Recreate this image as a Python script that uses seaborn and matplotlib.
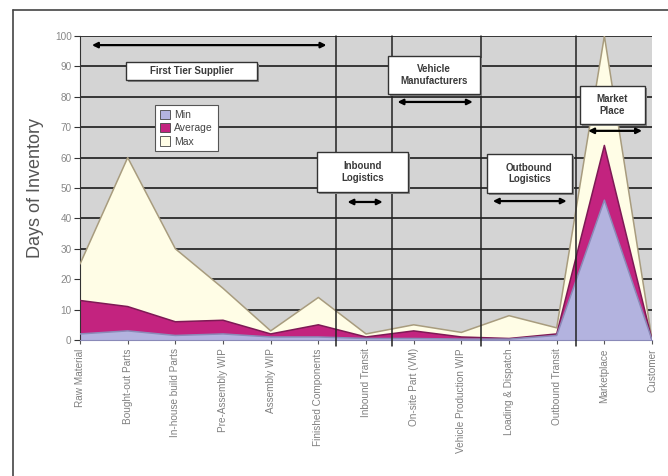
import numpy as np
import pandas as pd
import matplotlib.pyplot as plt
import seaborn as sns
from matplotlib.lines import Line2D
from matplotlib.patches import Rectangle

# Etapas de la cadena y días de inventario
stages = ['Raw Material', 'Bought-out Parts', 'In-house build Parts',
          'Pre-Assembly WIP', 'Assembly WIP', 'Finished Components',
          'Inbound Transit', 'On-site Part (VM)', 'Vehicle Production WIP',
          'Loading & Dispatch', 'Outbound Transit', 'Marketplace', 'Customer']
max_days = [25, 60, 30, 17, 3, 14, 2, 5, 2.5, 8, 4, 100, 0]
avg_days = [13, 11, 6, 6.5, 2, 5, 1, 3, 1, 0.5, 2, 64, 0]
min_days = [2, 3, 1.5, 2, 1, 1, 0.5, 0.5, 0.3, 0.3, 1.5, 46, 0]

df = pd.DataFrame({'stage': stages, 'Max': max_days,
                   'Average': avg_days, 'Min': min_days})
df['pos'] = np.arange(len(df))

sns.set_style('white')
plt.rcParams['font.family'] = ['Liberation Sans', 'DejaVu Sans']

fig = plt.figure(figsize=(6.68, 4.76), dpi=100)
ax = fig.add_axes([0.1198, 0.2857, 0.8563, 0.6387])
ax.set_facecolor('#d4d4d4')

# Lineas horizontales de la rejilla
for yv in range(10, 101, 10):
    ax.axhline(yv, color='#363636', lw=1.4, zorder=1)

# Areas superpuestas: Max, Average, Min
series = [('Max', '#fffde6', '#a89c7e'),
          ('Average', '#c3237f', '#7e1a55'),
          ('Min', '#b3b3df', '#8a8ab8')]
handles = {}
for name, fill, edge in series:
    handles[name] = ax.fill_between(df['pos'], 0, df[name], color=fill,
                                    zorder=2, edgecolor='none')
    sns.lineplot(data=df, x='pos', y=name, color=edge, lw=1.1, ax=ax,
                 zorder=3, legend=False)

# Divisiones entre bloques
for xv in [5.36, 6.54, 8.41, 10.40]:
    ax.plot([xv, xv], [-2, 100], color='#222222', lw=1.1, zorder=4,
            clip_on=False)

# Cajas de texto y flechas
boxes = [(0.97, 3.72, 85.5, 91.4, 'First Tier Supplier'),
         (4.98, 6.89, 48.7, 61.8, 'Inbound\nLogistics'),
         (6.47, 8.39, 80.9, 93.4, 'Vehicle\nManufacturers'),
         (8.53, 10.32, 48.4, 61.2, 'Outbound\nLogistics'),
         (10.49, 11.85, 71.1, 83.6, 'Market\nPlace')]
for x0, x1, y0, y1, label in boxes:
    ax.add_patch(Rectangle((x0 + 0.04, y0 - 0.7), x1 - x0, y1 - y0,
                           facecolor='#888888', edgecolor='none', zorder=5))
    ax.add_patch(Rectangle((x0, y0), x1 - x0, y1 - y0, facecolor='white',
                           edgecolor='#333333', lw=1.0, zorder=6))
    ax.text((x0 + x1) / 2, (y0 + y1) / 2, label, ha='center', va='center',
            fontsize=7, fontweight='bold', color='#3a3a3a', zorder=7,
            linespacing=1.2)

arrows = [(0.25, 5.17, 97.0), (5.61, 6.35, 45.4), (6.66, 8.24, 78.3),
          (8.66, 10.21, 45.7), (10.66, 11.79, 68.8)]
for x0, x1, yv in arrows:
    ax.annotate('', xy=(x1, yv), xytext=(x0, yv), zorder=8,
                arrowprops=dict(arrowstyle='<|-|>', color='black', lw=1.6,
                                mutation_scale=8, shrinkA=0, shrinkB=0))

ax.set_xlim(0, 12)
ax.set_ylim(0, 100)
ax.set_yticks(range(0, 101, 10))
ax.set_xticks(df['pos'])
ax.set_xticklabels(stages, rotation=90, fontsize=7.2, color='#808080')
ax.tick_params(axis='y', labelsize=7.2, labelcolor='#888888', length=4,
               direction='out', color='#333333', left=True, pad=2)
ax.tick_params(axis='x', length=3, direction='out', color='#555555',
               bottom=True, pad=3)
ax.set_xlabel('')
ax.set_ylabel('Days of Inventory', fontsize=13, color='#555555', labelpad=8)

for side in ['top', 'right']:
    ax.spines[side].set_visible(False)
ax.spines['left'].set_color('#333333')
ax.spines['bottom'].set_color('#8a8ab8')

leg_names = ['Min', 'Average', 'Max']
leg = ax.legend([handles[n] for n in leg_names], leg_names,
                loc='upper left', bbox_to_anchor=(0.122, 0.79), fontsize=7.5,
                frameon=True, fancybox=False, framealpha=1,
                handlelength=1.0, handleheight=1.0, borderpad=0.45,
                labelspacing=0.3, handletextpad=0.4)
leg.get_frame().set_edgecolor('#555555')
leg.get_frame().set_linewidth(0.8)
leg.set_zorder(9)
for patch in leg.get_patches():
    patch.set_edgecolor('#444444')
    patch.set_linewidth(0.6)
for txt in leg.get_texts():
    txt.set_color('#444444')

# Marco exterior
fig.add_artist(Line2D([13 / 668, 1], [1 - 10 / 476, 1 - 10 / 476],
                      color='#444444', lw=1.2))
fig.add_artist(Line2D([13 / 668, 13 / 668], [0, 1 - 10 / 476],
                      color='#444444', lw=1.2))

plt.savefig('out.png', dpi=100)
